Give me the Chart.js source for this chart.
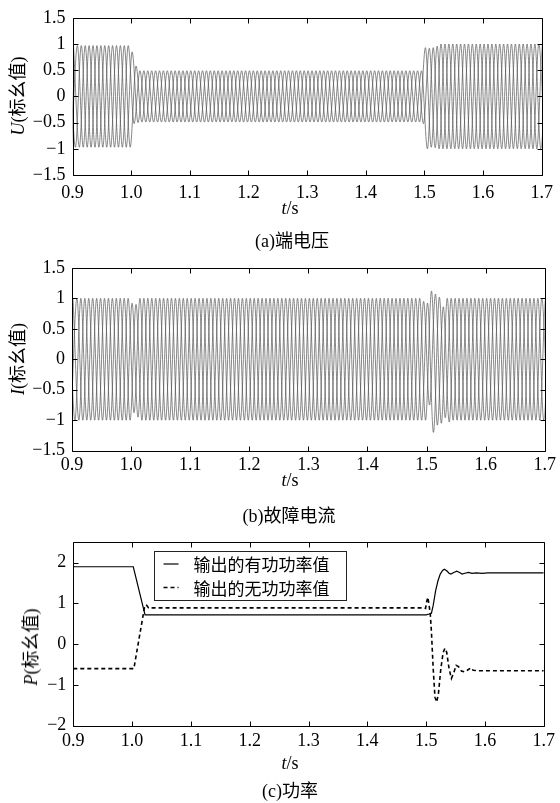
<!DOCTYPE html>
<html lang="zh-CN"><head><meta charset="utf-8">
<script src="https://cdn.jsdelivr.net/npm/chart.js@4/dist/chart.umd.min.js"></script>
<style>
html,body{margin:0;padding:0;background:#fff;}
body{width:560px;height:803px;position:relative;overflow:hidden;font-family:'Liberation Serif','Noto Sans CJK SC',serif;color:#000;}
canvas{position:absolute;left:0;}
.t{position:absolute;font-size:18px;white-space:nowrap;transform:translate(-50%,-50%);line-height:1;}
.yt{position:absolute;font-size:18px;white-space:nowrap;transform:translate(-50%,-50%) rotate(-90deg);line-height:1;}
.cjk{font-family:'Noto Sans CJK SC',sans-serif;}
</style></head><body>
<canvas id="cA" width="560" height="205" style="top:0px;width:560px;height:205px"></canvas>
<canvas id="cB" width="560" height="230" style="top:250px;width:560px;height:230px"></canvas>
<canvas id="cC" width="560" height="240" style="top:520px;width:560px;height:240px"></canvas>

<div class="yt" style="left:17px;top:96px"><i>U</i>(<span class="cjk">标幺值</span>)</div>
<div class="t" style="left:290px;top:208px"><i>t</i>/s</div>
<div class="t" style="left:292px;top:240px">(a)<span class="cjk">端电压</span></div>

<div class="yt" style="left:17px;top:359px"><i>I</i>(<span class="cjk">标幺值</span>)</div>
<div class="t" style="left:290px;top:480px"><i>t</i>/s</div>
<div class="t" style="left:289px;top:515px">(b)<span class="cjk">故障电流</span></div>

<div class="yt" style="left:30px;top:647px"><i>P</i>(<span class="cjk">标幺值</span>)</div>
<div class="t" style="left:290px;top:763px"><i>t</i>/s</div>
<div class="t" style="left:290px;top:790px">(c)<span class="cjk">功率</span></div>

<script>
// ---------- tick values / labels ----------
const xTicks = [0.9,1.0,1.1,1.2,1.3,1.4,1.5,1.6,1.7];
const xTickLabels = ['0.9','1.0','1.1','1.2','1.3','1.4','1.5','1.6','1.7'];
const yTicksAB = [1.5,1,0.5,0,-0.5,-1,-1.5];
const yTickLabelsAB = ['1.5','1','0.5','0','\u22120.5','\u22121','\u22121.5'];
const yTicksC = [2,1,0,-1,-2];
const yTickLabelsC = ['2','1','0','\u22121','\u22122'];

// ---------- waveform sampling (extrema of each phase, 50 Hz, one every half period) ----------
const halfPeriod = 0.01;
const startA = 0.895, startB = 0.90167, startC = 0.89833;

// (a) terminal voltage, extrema of each phase
const uPhaseA = [
0.97,-0.97,0.97,-0.97,0.97,-0.97,0.97,-0.97,0.97,-0.97,0.97,
-0.52,
0.49,-0.49,0.49,-0.49,0.49,-0.49,0.49,-0.49,0.49,-0.49,
0.49,-0.49,0.49,-0.49,0.49,-0.49,0.49,-0.49,0.49,-0.49,
0.49,-0.49,0.49,-0.49,0.49,-0.49,0.49,-0.49,0.49,-0.49,
0.49,-0.49,0.49,-0.49,0.49,-0.49,0.49,-0.49,0.49,-0.49,
0.49,-0.49,0.49,-0.49,0.49,-0.49,0.49,-0.49,0.49,
-1.0,0.93,
-1.0,1.0,-1.0,1.0,-1.0,1.0,-1.0,1.0,-1.0,1.0,
-1.0,1.0,-1.0,1.0,-1.0,1.0,-1.0,1.0,-1.0];
const uPhaseB = [
0.97,-0.97,0.97,-0.97,0.97,-0.97,0.97,-0.97,0.97,-0.97,
0.85,-0.5,
0.49,-0.49,0.49,-0.49,0.49,-0.49,0.49,-0.49,0.49,-0.49,
0.49,-0.49,0.49,-0.49,0.49,-0.49,0.49,-0.49,0.49,-0.49,
0.49,-0.49,0.49,-0.49,0.49,-0.49,0.49,-0.49,0.49,-0.49,
0.49,-0.49,0.49,-0.49,0.49,-0.49,0.49,-0.49,0.49,-0.49,
0.49,-0.49,0.49,-0.49,0.49,-0.49,0.49,-0.49,
0.93,-0.97,0.96,
-1.0,1.0,-1.0,1.0,-1.0,1.0,-1.0,1.0,-1.0,1.0,
-1.0,1.0,-1.0,1.0,-1.0,1.0,-1.0,1.0,-1.0];
const uPhaseC = [
-0.97,0.97,-0.97,0.97,-0.97,0.97,-0.97,0.97,-0.97,0.97,-0.97,
0.58,
-0.49,0.49,-0.49,0.49,-0.49,0.49,-0.49,0.49,-0.49,0.49,
-0.49,0.49,-0.49,0.49,-0.49,0.49,-0.49,0.49,-0.49,0.49,
-0.49,0.49,-0.49,0.49,-0.49,0.49,-0.49,0.49,-0.49,0.49,
-0.49,0.49,-0.49,0.49,-0.49,0.49,-0.49,0.49,-0.49,0.49,
-0.49,0.49,-0.49,0.49,-0.49,0.49,-0.49,0.49,-0.52,
0.92,-0.98,
1.0,-1.0,1.0,-1.0,1.0,-1.0,1.0,-1.0,1.0,-1.0,
1.0,-1.0,1.0,-1.0,1.0,-1.0,1.0,-1.0,1.0];

// (b) fault current, extrema of each phase
const iPhaseA = [
1,-1,1,-1,1,-1,1,-1,1,-1,1,
-0.88,
1,-1,1,-1,1,-1,1,-1,1,-1,
1,-1,1,-1,1,-1,1,-1,1,-1,
1,-1,1,-1,1,-1,1,-1,1,-1,
1,-1,1,-1,1,-1,1,-1,1,-1,
1,-1,1,-1,1,-1,1,-1,
0.95,
-0.75,1.07,-1.05,1.0,
-1,1,-1,1,-1,1,-1,1,-1,1,
-1,1,-1,1,-1,1,-1];
const iPhaseB = [
1,-1,1,-1,1,-1,1,-1,1,-1,
0.92,-0.95,
1,-1,1,-1,1,-1,1,-1,1,-1,
1,-1,1,-1,1,-1,1,-1,1,-1,
1,-1,1,-1,1,-1,1,-1,1,-1,
1,-1,1,-1,1,-1,1,-1,1,-1,
1,-1,1,-1,1,-1,1,-1,
0.92,-1.2,1.02,-0.96,
1,-1,1,-1,1,-1,1,-1,1,-1,
1,-1,1,-1,1,-1,1,-1];
const iPhaseC = [
-1,1,-1,1,-1,1,-1,1,-1,1,-1,
0.9,
-1,1,-1,1,-1,1,-1,1,-1,1,
-1,1,-1,1,-1,1,-1,1,-1,1,
-1,1,-1,1,-1,1,-1,1,-1,1,
-1,1,-1,1,-1,1,-1,1,-1,1,
-1,1,-1,1,-1,1,-1,1,-1,
1.12,-1.08,0.86,-1.03,
1,-1,1,-1,1,-1,1,-1,1,-1,
1,-1,1,-1,1,-1,1];

// (c) power
const pTimes = [0.9,1.002,1.022,1.5,1.505,1.509,1.512,1.516,1.520,1.524,1.528,1.531,1.535,1.539,1.542,1.547,1.552,1.557,1.561,1.566,1.572,1.578,1.585,1.595,1.605,1.7];
const pValues = [1.9,1.9,0.72,0.72,0.74,0.76,0.95,1.3,1.55,1.72,1.81,1.84,1.8,1.74,1.72,1.76,1.79,1.76,1.72,1.74,1.76,1.74,1.75,1.74,1.75,1.75];
const qTimes = [0.9,1.003,1.021,1.024,1.028,1.497,1.499,1.501,1.503,1.505,1.507,1.509,1.512,1.515,1.518,1.521,1.525,1.529,1.532,1.535,1.539,1.543,1.547,1.551,1.555,1.56,1.565,1.57,1.576,1.58,1.59,1.7];
const qValues = [-0.6,-0.6,0.9,0.97,0.89,0.89,0.88,1.05,1.15,0.95,0.75,0.3,-0.6,-1.3,-1.42,-1.2,-0.6,-0.2,-0.1,-0.2,-0.6,-0.84,-0.7,-0.52,-0.55,-0.66,-0.68,-0.64,-0.58,-0.64,-0.65,-0.65];
const seriesLabels = ['输出的有功功率值','输出的无功功率值'];

// ---------- helpers ----------
Chart.defaults.font.family = "'Liberation Serif','Times New Roman',serif";
Chart.defaults.font.size = 18;
Chart.defaults.color = '#000';

function extremaSeries(values, start){
  return values.map((v,k)=>({x: start + k*halfPeriod, y: v}));
}
function waveDataset(values, start){
  return {data: extremaSeries(values,start), borderColor:'#555', borderWidth:0.7,
    pointRadius:0, cubicInterpolationMode:'monotone', fill:false};
}

const framePlugin = {
  id:'frame',
  afterDatasetsDraw(chart){
    const {ctx, chartArea:a, scales:{x,y}} = chart;
    const L = 5;
    ctx.save();
    ctx.strokeStyle = '#000'; ctx.lineWidth = 1;
    const l = Math.round(a.left)+0.5, r = Math.round(a.right)+0.5, t = Math.round(a.top)+0.5, b = Math.round(a.bottom)+0.5;
    ctx.beginPath();
    ctx.rect(l, t, r-l, b-t);
    x.ticks.forEach(tk=>{
      const px = Math.round(x.getPixelForValue(tk.value))+0.5;
      ctx.moveTo(px,b); ctx.lineTo(px,b-L);
      ctx.moveTo(px,t); ctx.lineTo(px,t+L);
    });
    y.ticks.forEach(tk=>{
      const py = Math.round(y.getPixelForValue(tk.value))+0.5;
      ctx.moveTo(l,py); ctx.lineTo(l+L,py);
      ctx.moveTo(r,py); ctx.lineTo(r-L,py);
    });
    ctx.stroke();
    ctx.restore();
  }
};

const legendPlugin = {
  id:'boxLegend',
  afterDraw(chart){
    const {ctx, chartArea:a} = chart;
    const bx = Math.round(a.left + 81)+0.5, by = Math.round(a.top + 8.5)+0.5, bw = 192, bh = 49;
    ctx.save();
    ctx.fillStyle = '#fff';
    ctx.fillRect(bx, by, bw, bh);
    ctx.strokeStyle = '#222'; ctx.lineWidth = 1;
    ctx.strokeRect(bx, by, bw, bh);
    const rows = [by + 12.5, by + 36];
    const ds = chart.data.datasets;
    rows.forEach((ry,i)=>{
      ctx.beginPath();
      ctx.lineWidth = ds[i].borderWidth;
      ctx.setLineDash(ds[i].borderDash || []);
      ctx.strokeStyle = '#000';
      ctx.moveTo(bx + 9, ry); ctx.lineTo(bx + 24, ry);
      ctx.stroke();
      ctx.setLineDash([]);
      ctx.fillStyle = '#000';
      ctx.font = "17px 'Noto Sans CJK SC'";
      ctx.textBaseline = 'middle'; ctx.textAlign = 'left';
      ctx.fillText(ds[i].label, bx + 39, ry + 1);
    });
    ctx.restore();
  }
};

function makeOptions(o){
  return {
    responsive:false, animation:false, events:[],
    layout:{padding:{left:0, right:o.right, top:o.top, bottom:0}},
    plugins:{legend:{display:false}, tooltip:{enabled:false}},
    scales:{
      x:{type:'linear', min:0.9, max:1.7,
        grid:{display:false, drawTicks:false}, border:{display:false},
        afterBuildTicks:s=>{ s.ticks = xTicks.map(v=>({value:v})); },
        afterFit:s=>{ s.height = o.xh; },
        ticks:{autoSkip:false, maxRotation:0, padding:o.xpad, callback:(v,i)=>xTickLabels[i]}},
      y:{type:'linear', min:o.ymin, max:o.ymax,
        grid:{display:false, drawTicks:false}, border:{display:false},
        afterBuildTicks:s=>{ s.ticks = o.yt.map(v=>({value:v})); },
        afterFit:s=>{ s.width = o.yw; },
        ticks:{autoSkip:false, padding:7, callback:(v,i)=>o.yl[i]}}
    }
  };
}

new Chart(document.getElementById('cA'), {
  type:'line',
  data:{datasets:[waveDataset(uPhaseA,startA), waveDataset(uPhaseB,startB), waveDataset(uPhaseC,startC)]},
  options: makeOptions({right:11, top:12, xh:30, xpad:7, ymin:-1.5, ymax:1.5, yt:yTicksAB, yl:yTickLabelsAB, yw:72.5}),
  plugins:[framePlugin]
});

new Chart(document.getElementById('cB'), {
  type:'line',
  data:{datasets:[waveDataset(iPhaseA,startA), waveDataset(iPhaseB,startB), waveDataset(iPhaseC,startC)]},
  options: makeOptions({right:15, top:15.7, xh:29.3, xpad:4, ymin:-1.5, ymax:1.5, yt:yTicksAB, yl:yTickLabelsAB, yw:72}),
  plugins:[framePlugin]
});

new Chart(document.getElementById('cC'), {
  type:'line',
  data:{datasets:[
    {label:seriesLabels[0], data:pTimes.map((t,i)=>({x:t,y:pValues[i]})), borderColor:'#000', borderWidth:1.2, pointRadius:0, tension:0, fill:false},
    {label:seriesLabels[1], data:qTimes.map((t,i)=>({x:t,y:qValues[i]})), borderColor:'#000', borderWidth:1.6, borderDash:[4,3], pointRadius:0, tension:0, fill:false}
  ]},
  options: makeOptions({right:10.7, top:22.3, xh:34.3, xpad:5, ymin:-2, ymax:2.5, yt:yTicksC, yl:yTickLabelsC, yw:73.3}),
  plugins:[framePlugin, legendPlugin]
});
</script>
</body></html>
